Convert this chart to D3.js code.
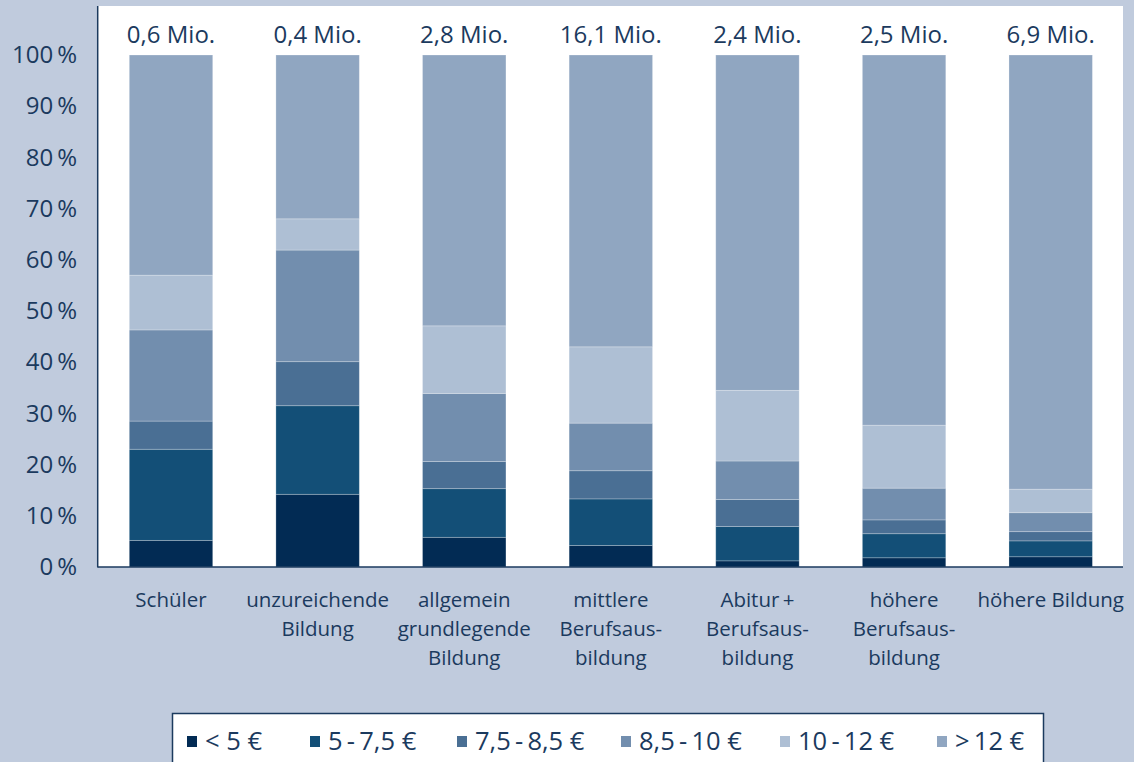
<!DOCTYPE html>
<html>
<head>
<meta charset="utf-8">
<script src="https://cdn.jsdelivr.net/npm/d3@7"></script>
<style>
  html, body { margin: 0; padding: 0; background: #c0cbdd; }
  svg { display: block; }
  text { font-family: "Open Sans", "Noto Sans", sans-serif; fill: #1b3a5e; }
</style>
</head>
<body>
<svg id="chart" width="1134" height="762"></svg>
<script>
// ---- data ----
const categories = ["Schüler", "unzureichende Bildung", "allgemein grundlegende Bildung",
  "mittlere Berufsausbildung", "Abitur + Berufsausbildung", "höhere Berufsausbildung", "höhere Bildung"];
const categoryLines = [
  ["Schüler"],
  ["unzureichende", "Bildung"],
  ["allgemein", "grundlegende", "Bildung"],
  ["mittlere", "Berufsaus-", "bildung"],
  ["Abitur\u2009+", "Berufsaus-", "bildung"],
  ["höhere", "Berufsaus-", "bildung"],
  ["höhere Bildung"]
];
const totals = ["0,6 Mio.", "0,4 Mio.", "2,8 Mio.", "16,1 Mio.", "2,4 Mio.", "2,5 Mio.", "6,9 Mio."];
const seriesNames = ["< 5 €", "5\u2009-\u20097,5 €", "7,5\u2009-\u20098,5 €", "8,5\u2009-\u200910 €", "10\u2009-\u200912 €", ">\u200912 €"];
const under5     = [5.2, 14.2, 5.8, 4.2, 1.2, 1.8, 2.0];
const from5to75  = [17.8, 17.3, 9.5, 9.1, 6.7, 4.7, 3.1];
const from75to85 = [5.5, 8.6, 5.3, 5.5, 5.3, 2.7, 1.8];
const from85to10 = [17.8, 21.8, 13.3, 9.3, 7.5, 6.2, 3.7];
const from10to12 = [10.7, 6.1, 13.2, 14.9, 13.8, 12.3, 4.6];
const over12     = [43.0, 32.0, 52.9, 57.0, 65.5, 72.3, 84.8];
const yTicks = [0, 10, 20, 30, 40, 50, 60, 70, 80, 90, 100];
const colors = ["#022b54", "#134f77", "#4a6f94", "#728eae", "#aebfd4", "#90a6c1"];

// ---- build ----
const seriesValues = [under5, from5to75, from75to85, from85to10, from10to12, over12];
const rows = categories.map((c, i) => {
  const r = { cat: c };
  seriesNames.forEach((s, j) => r[s] = seriesValues[j][i]);
  return r;
});
const stack = d3.stack().keys(seriesNames)(rows);

const svg = d3.select("#chart");
const plot = { left: 97.7, right: 1124, top: 6, bottom: 567 };

const x = d3.scaleBand().domain(categories).range([plot.left, plot.right])
  .paddingInner(0.431).paddingOuter(0.2155);
const y = d3.scaleLinear().domain([0, 100]).range([567, 55]);

// plot background
svg.append("rect").attr("x", plot.left).attr("y", plot.top)
  .attr("width", 1123 - plot.left).attr("height", plot.bottom - plot.top)
  .attr("fill", "#ffffff");

// bars
const color = d3.scaleOrdinal().domain(seriesNames).range(colors);
svg.append("g").selectAll("g").data(stack).join("g")
  .attr("fill", d => color(d.key))
  .selectAll("rect").data(d => d).join("rect")
  .attr("x", d => x(d.data.cat))
  .attr("width", x.bandwidth())
  .attr("y", d => y(d[1]))
  .attr("height", d => y(d[0]) - y(d[1]))
  .attr("stroke", "rgba(255,255,255,0.3)")
  .attr("stroke-width", 0.8);

// axes lines
svg.append("line").attr("x1", plot.left).attr("x2", plot.left)
  .attr("y1", plot.top).attr("y2", plot.bottom + 0.5)
  .attr("stroke", "#1b3a5e").attr("stroke-width", 1.5);
svg.append("line").attr("x1", plot.left).attr("x2", 1123)
  .attr("y1", plot.bottom).attr("y2", plot.bottom)
  .attr("stroke", "#1b3a5e").attr("stroke-width", 1.5);

// y axis labels (via d3 axis, ticks hidden)
const yAxis = d3.axisLeft(y).tickValues(yTicks).tickFormat(d => d + "\u2009%").tickSize(0).tickPadding(0);
const gy = svg.append("g").attr("transform", "translate(77,0)").call(yAxis);
gy.select(".domain").remove();
gy.selectAll("text").attr("font-size", 24).style("font-family", "'Open Sans', sans-serif").attr("fill", "#1b3a5e");

// totals on top
svg.append("g").selectAll("text").data(categories).join("text")
  .attr("x", d => x(d) + x.bandwidth() / 2)
  .attr("y", 43)
  .attr("text-anchor", "middle")
  .attr("font-size", 24)
  .text((d, i) => totals[i]);

// category labels
const cl = svg.append("g").selectAll("text").data(categories).join("text")
  .attr("text-anchor", "middle")
  .attr("font-size", 20.5);
cl.each(function(d, i) {
  const t = d3.select(this);
  categoryLines[i].forEach((line, k) => {
    t.append("tspan").attr("x", x(d) + x.bandwidth() / 2).attr("y", 607 + k * 28.8).text(line);
  });
});

// legend
svg.append("rect").attr("x", 172.5).attr("y", 713.5).attr("width", 871).attr("height", 60)
  .attr("fill", "#ffffff").attr("stroke", "#1b3a5e").attr("stroke-width", 1.5);
const legendX = [187, 310, 457, 621, 780, 937];
const lg = svg.append("g").selectAll("g").data(seriesNames).join("g")
  .attr("transform", (d, i) => `translate(${legendX[i]},741)`);
lg.append("rect").attr("x", 0).attr("y", -5).attr("width", 10).attr("height", 11)
  .attr("fill", d => color(d));
lg.append("text").attr("x", 18).attr("y", 9).attr("font-size", 25.5).text(d => d);
</script>
</body>
</html>
